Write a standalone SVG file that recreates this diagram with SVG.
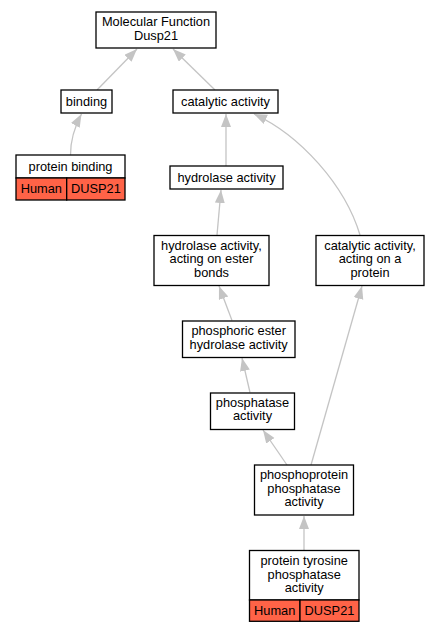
<svg xmlns="http://www.w3.org/2000/svg" width="439" height="632" viewBox="0 0 439 632">
<style>
.n{fill:#fff;stroke:#000;stroke-width:1.3}
.h{fill:#ff6347;stroke:#000;stroke-width:1.3}
.t{font-family:"Liberation Sans",Arial,sans-serif;font-size:12.8px;fill:#000;text-anchor:middle}
.e{fill:none;stroke:#c4c4c4;stroke-width:1.3}
</style>
<defs>
<marker id="a" markerUnits="userSpaceOnUse" markerWidth="14" markerHeight="12" refX="13" refY="5" orient="auto">
<path d="M0,0 L13,5 L0,10 z" fill="#c4c4c4"/>
</marker>
</defs>
<rect width="439" height="632" fill="#fff"/>
<g id="edges">
<path class="e" marker-end="url(#a)" d="M97,90 L137,49"/>
<path class="e" marker-end="url(#a)" d="M215,90 L173,49"/>
<path class="e" marker-end="url(#a)" d="M70.5,155 C70.5,140 75,126 81.5,114"/>
<path class="e" marker-end="url(#a)" d="M226,166 L226,114"/>
<path class="e" marker-end="url(#a)" d="M360,235 C345,185 300,135 254,114"/>
<path class="e" marker-end="url(#a)" d="M217,235 L221,190"/>
<path class="e" marker-end="url(#a)" d="M232,320.5 L219,286"/>
<path class="e" marker-end="url(#a)" d="M250,392.5 L242,358"/>
<path class="e" marker-end="url(#a)" d="M287,465 L263,430"/>
<path class="e" marker-end="url(#a)" d="M311,465 L362,286"/>
<path class="e" marker-end="url(#a)" d="M304,550 L304,516"/>
</g>
<g id="mf">
<rect class="n" x="96" y="12" width="120" height="36"/>
<text class="t" x="156" y="26.2">Molecular Function</text>
<text class="t" x="156" y="39.7">Dusp21</text>
</g>
<g id="binding">
<rect class="n" x="61" y="90" width="51" height="23"/>
<text class="t" x="86.5" y="105.5">binding</text>
</g>
<g id="catalytic">
<rect class="n" x="173" y="90" width="105" height="23"/>
<text class="t" x="225.5" y="105.5">catalytic activity</text>
</g>
<g id="proteinbinding">
<rect class="n" x="16" y="155" width="109" height="23"/>
<text class="t" x="70.5" y="170.5">protein binding</text>
<rect class="h" x="16" y="178" width="50.7" height="22"/>
<rect class="h" x="66.7" y="178" width="58.3" height="22"/>
<text class="t" x="41.3" y="193">Human</text>
<text class="t" x="95.9" y="193">DUSP21</text>
</g>
<g id="hydrolase">
<rect class="n" x="170" y="166" width="113" height="23"/>
<text class="t" x="226.5" y="181.5">hydrolase activity</text>
</g>
<g id="hydrolaseester">
<rect class="n" x="154" y="235.5" width="115" height="50"/>
<text class="t" x="211.5" y="249.5">hydrolase activity,</text>
<text class="t" x="211.5" y="263">acting on ester</text>
<text class="t" x="211.5" y="276.5">bonds</text>
</g>
<g id="catalyticprotein">
<rect class="n" x="316" y="235.5" width="108" height="50"/>
<text class="t" x="370" y="249.5">catalytic activity,</text>
<text class="t" x="370" y="263">acting on a</text>
<text class="t" x="370" y="276.5">protein</text>
</g>
<g id="phosphoric">
<rect class="n" x="182.5" y="321" width="112.5" height="36.5"/>
<text class="t" x="238.7" y="335">phosphoric ester</text>
<text class="t" x="238.7" y="348.5">hydrolase activity</text>
</g>
<g id="phosphatase">
<rect class="n" x="210.5" y="393" width="84" height="36.5"/>
<text class="t" x="252.5" y="406.7">phosphatase</text>
<text class="t" x="252.5" y="420.2">activity</text>
</g>
<g id="phosphoprotein">
<rect class="n" x="254.5" y="465" width="99" height="50"/>
<text class="t" x="304" y="479">phosphoprotein</text>
<text class="t" x="304" y="492.5">phosphatase</text>
<text class="t" x="304" y="506">activity</text>
</g>
<g id="tyrosine">
<rect class="n" x="249.5" y="550.5" width="109.5" height="49.5"/>
<text class="t" x="304.2" y="565">protein tyrosine</text>
<text class="t" x="304.2" y="578.5">phosphatase</text>
<text class="t" x="304.2" y="592">activity</text>
<rect class="h" x="249.5" y="600" width="50.5" height="21.3"/>
<rect class="h" x="300" y="600" width="59" height="21.3"/>
<text class="t" x="274.7" y="614.5">Human</text>
<text class="t" x="329.5" y="614.5">DUSP21</text>
</g>
</svg>
